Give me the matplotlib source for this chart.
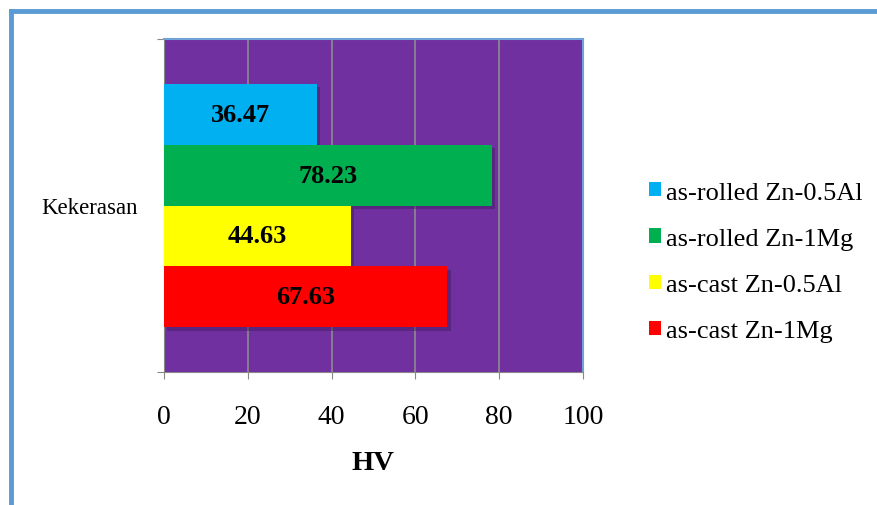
import matplotlib
matplotlib.use("Agg")
import matplotlib.pyplot as plt
from matplotlib.patches import Patch
import matplotlib.patheffects as pe

category = "Kekerasan"
series = ["as-rolled Zn-0.5Al", "as-rolled Zn-1Mg", "as-cast Zn-0.5Al", "as-cast Zn-1Mg"]
values = [36.47, 78.23, 44.63, 67.63]
colors = ["#00B0F0", "#00B050", "#FFFF00", "#FF0000"]
xticks = [0, 20, 40, 60, 80, 100]
xlabel = "HV"

plt.rcParams["font.family"] = ["Liberation Serif", "DejaVu Serif"]

fig = plt.figure(figsize=(8.78, 5.06), dpi=100)
ax = fig.add_axes([164/878, 1-373/506, 419/878, 333/506])
ax.set_facecolor("#7030A0")

bh = 0.1825
n = len(values)
offsets = [(n/2 - 0.5 - i) * bh for i in range(n)]
for v, c, off, s in zip(values, colors, offsets, series):
    ax.barh(off, v, height=bh, color=c, label=s, zorder=3,
            path_effects=[pe.SimplePatchShadow(offset=(2.5, -2.5), shadow_rgbFace="#3a1a55", alpha=0.45), pe.Normal()])
    ax.text(v/2, off, f"{v:.2f}", ha="center", va="center", fontsize=19, fontweight="bold", zorder=4)

ax.set_xlim(0, 100)
ax.set_ylim(-0.5, 0.5)
ax.set_xticks(xticks)
ax.set_xticklabels([str(t) for t in xticks], fontsize=20)
ax.set_yticks([-0.5, 0.5])
ax.set_yticklabels([])
ax.tick_params(axis="x", length=5, color="#888888", pad=18, direction="out")
ax.tick_params(axis="y", length=5, color="#888888", direction="out")
ax.grid(axis="x", color="#8c8c8c", linewidth=1.2, zorder=1)
for side in ["top", "right"]:
    ax.spines[side].set_color("#6fa3d8")
    ax.spines[side].set_linewidth(1.5)
ax.spines["left"].set_color("#888888")
ax.spines["bottom"].set_color("#888888")
fig.text(373/878, 1-464/506, xlabel, fontsize=20.5, fontweight="bold", ha="center", va="center")
fig.text(90/878, 1-208/506, category, fontsize=16.5, ha="center", va="center")

handles = [Patch(facecolor=c, label=s) for c, s in zip(colors, series)]
fig.legend(handles=handles, loc="center left", bbox_to_anchor=(625/878, 1-263/506),
           frameon=False, fontsize=19, handlelength=0.45, handleheight=0.45,
           handletextpad=0.2, labelspacing=0.92)

# document frame
fig.add_artist(plt.Line2D([11/878, 11/878], [0, 1-12/506], color="#5B9BD5", linewidth=3.5))
fig.add_artist(plt.Line2D([11/878, 1], [1-12/506, 1-12/506], color="#5B9BD5", linewidth=3.5))

fig.savefig("out.png", dpi=100)
